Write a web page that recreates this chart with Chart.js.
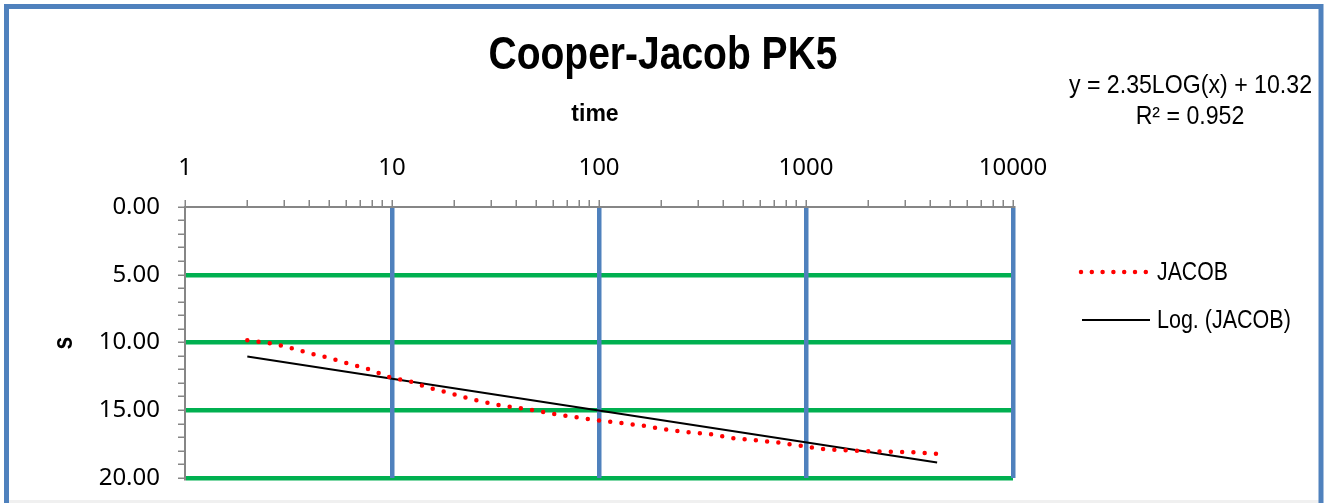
<!DOCTYPE html>
<html lang="en">
<head>
<meta charset="UTF-8">
<title>Cooper-Jacob PK5</title>
<script src="https://cdn.jsdelivr.net/npm/chart.js"></script>
<style>
  html, body { margin: 0; padding: 0; background: #fff; }
  #wrap { width: 1328px; height: 503px; position: relative; }
</style>
</head>
<body>
<div id="wrap"><canvas id="chart"></canvas></div>
<script>
// drawdown s against time
const time = [2, 2.5, 3, 3.5, 4, 5, 6, 7, 8, 9, 10, 12, 15, 18, 20, 25, 30, 35, 40, 50, 60, 70, 80, 100,
              125, 160, 200, 260, 340, 440, 560, 720, 930, 1200, 1550, 2000, 2600, 3300, 4300];
const drawdown = [9.84, 10.02, 10.26, 10.54, 10.80, 11.14, 11.50, 11.79, 12.05, 12.36, 12.62, 12.83, 13.33, 13.64, 13.83, 14.24, 14.49, 14.70, 14.80, 15.04, 15.27, 15.42, 15.55, 15.75,
                  15.92, 16.12, 16.36, 16.61, 16.75, 17.05, 17.20, 17.37, 17.60, 17.86, 17.96, 18.03, 18.06, 18.10, 18.21];

// log trendline (straight on a log axis), ends only
const trendTime = [2, 4300];
const trendS = [11.03, 18.86];

const xLabels = [1, 10, 100, 1000, 10000];
const yLabels = [0, 5, 10, 15, 20];

const AXIS_GREY = '#868686';
const BLUE = '#4F81BD';
const GREEN = '#00B050';
const CLEAR = 'rgba(0,0,0,0)';

// minor tick positions 1..9 in every decade
const xTickPos = [];
for (let d = 1; d < 10000; d *= 10) {
    for (let k = 1; k <= 9; k++) xTickPos.push(k * d);
}
xTickPos.push(10000);

// text drawn with a horizontal squeeze (narrow face look)
function drawText(c, str, x, y, font, align, sx) {
    c.save();
    c.font = font;
    c.textAlign = align;
    c.textBaseline = 'alphabetic';
    c.fillStyle = '#000';
    c.translate(x, y);
    c.scale(sx, 1);
    c.fillText(str, 0, 0);
    c.restore();
}

const extras = {
    id: 'extras',
    afterDraw(chart) {
        const c = chart.ctx;
        c.save();
        // outer frame
        c.fillStyle = '#f0f0f0';
        c.fillRect(9, 500, 1310, 3);
        c.strokeStyle = BLUE;
        c.lineWidth = 5;
        c.strokeRect(6.5, 6.5, 1314.5, 600);

        drawText(c, 'Cooper-Jacob PK5', 663, 69, 'bold 47px "Liberation Sans"', 'center', 0.83);
        drawText(c, 'time', 595, 121, 'bold 23px "Liberation Sans"', 'center', 1);

        // y title
        c.save();
        c.translate(65, 343);
        c.rotate(-Math.PI / 2);
        c.scale(0.85, 1);
        c.font = 'bold 27px "Liberation Sans"';
        c.textAlign = 'center';
        c.textBaseline = 'middle';
        c.fillStyle = '#000';
        c.fillText('s', 0, 0);
        c.restore();

        // trendline equation
        drawText(c, 'y = 2.35LOG(x) + 10.32', 1312, 93, '26px "Liberation Sans"', 'right', 0.89);
        drawText(c, 'R\u00B2 = 0.952', 1190, 124, '26px "Liberation Sans"', 'center', 0.89);

        // legend
        c.lineCap = 'round';
        c.setLineDash([0, 10.8]);
        c.strokeStyle = '#FF0000';
        c.lineWidth = 4.5;
        c.beginPath();
        c.moveTo(1081, 272);
        c.lineTo(1147, 272);
        c.stroke();
        c.setLineDash([]);
        c.lineCap = 'butt';
        c.strokeStyle = '#000';
        c.lineWidth = 2;
        c.beginPath();
        c.moveTo(1082, 320);
        c.lineTo(1150, 320);
        c.stroke();
        drawText(c, 'JACOB', 1157, 280, '25px "Liberation Sans"', 'left', 0.85);
        drawText(c, 'Log. (JACOB)', 1157, 328, '25px "Liberation Sans"', 'left', 0.86);
        c.restore();
    }
};

const tickFont = { family: '"Noto Sans", "Open Sans", sans-serif', size: 24 };

new Chart(document.getElementById('chart'), {
    type: 'line',
    data: {
        datasets: [{
            label: 'JACOB',
            data: time.map((t, i) => ({ x: t, y: drawdown[i] })),
            borderColor: '#FF0000',
            borderWidth: 4.5,
            borderDash: [0, 11.3],
            borderCapStyle: 'round',
            pointRadius: 0,
            fill: false
        }, {
            label: 'Log. (JACOB)',
            data: trendTime.map((t, i) => ({ x: t, y: trendS[i] })),
            borderColor: '#000000',
            borderWidth: 2,
            pointRadius: 0,
            fill: false
        }]
    },
    options: {
        responsive: true,
        maintainAspectRatio: false,
        animation: false,
        layout: { padding: { left: 0, top: 0, right: 315, bottom: 25 } },
        plugins: {
            legend: { display: false },
            title: { display: false },
            tooltip: { enabled: false }
        },
        scales: {
            x: {
                type: 'logarithmic',
                position: 'top',
                min: 1,
                max: 10000,
                afterBuildTicks(scale) { scale.ticks = xTickPos.map(v => ({ value: v })); },
                afterFit(scale) {
                    scale.height = 207;
                    scale.paddingLeft = 0;
                    scale.paddingRight = 0;
                },
                ticks: {
                    autoSkip: false,
                    maxRotation: 0,
                    padding: 17,
                    color: '#000',
                    font: tickFont,
                    callback: v => xLabels.includes(v) ? String(v) : ''
                },
                grid: {
                    z: -1,
                    color: c => (c.tick && c.tick.value > 1 && xLabels.includes(c.tick.value)) ? BLUE : CLEAR,
                    lineWidth: 4.5,
                    tickColor: AXIS_GREY,
                    tickWidth: 1.5,
                    tickLength: 7
                },
                border: { color: AXIS_GREY, width: 2 }
            },
            y: {
                reverse: true,
                min: 0,
                max: 20,
                afterFit(scale) {
                    scale.width = 185;
                    scale.paddingTop = 0;
                    scale.paddingBottom = 0;
                },
                ticks: {
                    stepSize: 1,
                    autoSkip: false,
                    padding: 18,
                    color: '#000',
                    font: tickFont,
                    callback: v => yLabels.includes(v) ? v.toFixed(2) : ''
                },
                grid: {
                    z: -2,
                    color: c => (c.tick && c.tick.value > 0 && yLabels.includes(c.tick.value)) ? GREEN : CLEAR,
                    lineWidth: 4.5,
                    tickColor: AXIS_GREY,
                    tickWidth: 1.5,
                    tickLength: 7
                },
                border: { color: AXIS_GREY, width: 2 }
            }
        }
    },
    plugins: [extras]
});
</script>
</body>
</html>
